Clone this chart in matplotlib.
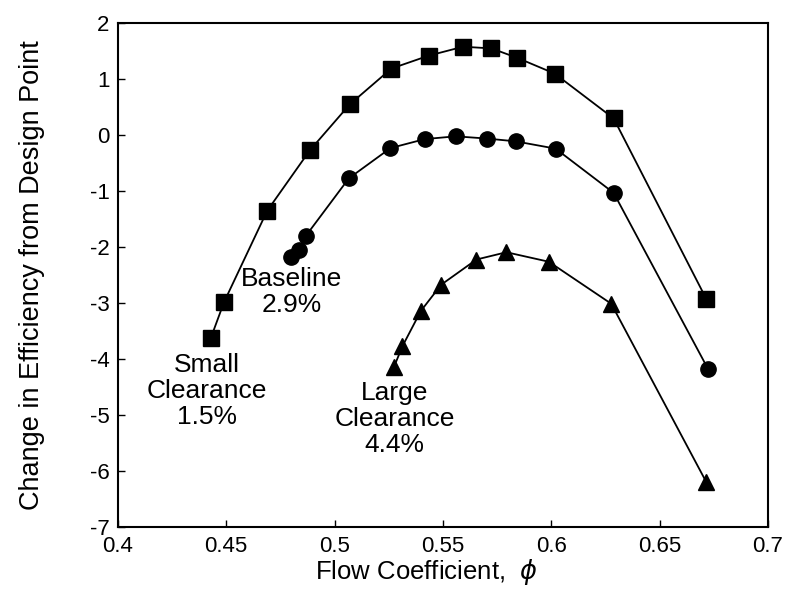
import matplotlib
matplotlib.use("Agg")
import matplotlib.pyplot as plt

plt.rcParams['font.family'] = ['Liberation Sans', 'DejaVu Sans']
plt.rcParams['mathtext.fontset'] = 'dejavusans'
plt.rcParams['axes.unicode_minus'] = False

# Small clearance 1.5% (squares)
phi_small = [0.4429, 0.4490, 0.4689, 0.4886, 0.5070, 0.5262, 0.5434, 0.5593, 0.5724, 0.5844, 0.6016, 0.6288, 0.6715]
eff_small = [-3.62, -2.98, -1.35, -0.27, 0.55, 1.19, 1.42, 1.58, 1.55, 1.38, 1.10, 0.30, -2.92]

# Baseline 2.9% (circles)
phi_base = [0.4798, 0.4836, 0.4867, 0.5066, 0.5258, 0.5416, 0.5559, 0.5703, 0.5836, 0.6020, 0.6288, 0.6723]
eff_base = [-2.18, -2.05, -1.80, -0.77, -0.23, -0.07, -0.02, -0.06, -0.11, -0.24, -1.03, -4.17]

# Large clearance 4.4% (triangles)
phi_large = [0.5274, 0.5313, 0.5398, 0.5492, 0.5655, 0.5793, 0.5989, 0.6277, 0.6715]
eff_large = [-4.14, -3.77, -3.14, -2.67, -2.22, -2.09, -2.26, -3.01, -6.19]

xticks = [0.4, 0.45, 0.5, 0.55, 0.6, 0.65, 0.7]
xtick_labels = ['0.4', '0.45', '0.5', '0.55', '0.6', '0.65', '0.7']
yticks = [-7, -6, -5, -4, -3, -2, -1, 0, 1, 2]

fig = plt.figure(figsize=(7.86, 5.95), dpi=100)
ax = fig.add_axes([0.150, 0.114, 0.827, 0.847])

ax.plot(phi_small, eff_small, color='black', lw=1.3, marker='s', ms=12, mfc='black', mec='black')
ax.plot(phi_base, eff_base, color='black', lw=1.3, marker='o', ms=11, mfc='black', mec='black')
ax.plot(phi_large, eff_large, color='black', lw=1.3, marker='^', ms=12, mfc='black', mec='black')

ax.set_xlim(0.4, 0.7)
ax.set_ylim(-7, 2)
ax.set_xticks(xticks)
ax.set_xticklabels(xtick_labels)
ax.set_yticks(yticks)
ax.tick_params(direction='in', length=5, width=1, labelsize=16, pad=6,
               top=False, right=False)
for s in ax.spines.values():
    s.set_linewidth(1.5)

ax.set_xlabel('Flow Coefficient,  $\\phi$', fontsize=18.5)
ax.xaxis.set_label_coords(0.474, -0.06, transform=ax.transAxes)
ax.xaxis.label.set_va('top')
ax.set_ylabel('Change in Efficiency from Design Point', fontsize=19.5, labelpad=32)

ax.text(0.4803, -2.80, 'Baseline\n2.9%', fontsize=19, ha='center', va='center', linespacing=1.12)
ax.text(0.4411, -4.57, 'Small\nClearance\n1.5%', fontsize=19, ha='center', va='center', linespacing=1.12)
ax.text(0.5278, -5.07, 'Large\nClearance\n4.4%', fontsize=19, ha='center', va='center', linespacing=1.12)

fig.savefig('out.png', dpi=100)
